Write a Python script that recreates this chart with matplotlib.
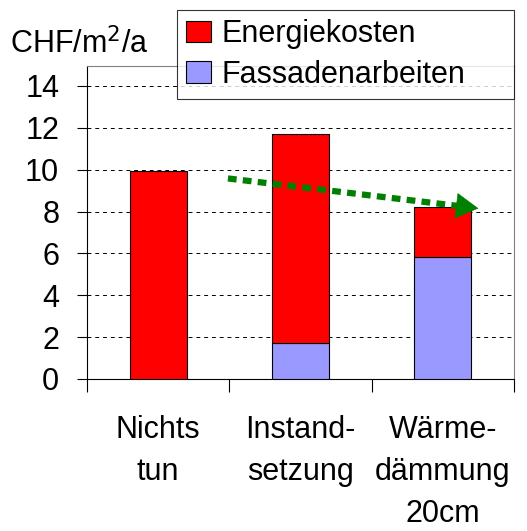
import matplotlib
matplotlib.use('Agg')
import matplotlib.pyplot as plt
import numpy as np

plt.rcParams['font.family'] = ['Liberation Sans', 'DejaVu Sans']

# data
categories = ['Nichts\ntun', 'Instand-\nsetzung', 'Wärme-\ndämmung\n20cm']
fassade = [0.0, 1.71, 5.85]
energie = [9.95, 9.98, 2.38]
trend_x = [0.49, 2.25]
trend_y = [9.58, 8.15]

FS = 22

fig = plt.figure(figsize=(5.27, 5.31), dpi=100)
ax = fig.add_axes([87/527, 1 - 379/531, 427/527, 313/531])

x = np.arange(len(categories))
ax.bar(x, fassade, width=0.4, color='#9999FF', edgecolor='black', linewidth=0.8,
       label='Fassadenarbeiten', zorder=3)
ax.bar(x, energie, width=0.4, bottom=fassade, color='#FF0000', edgecolor='black',
       linewidth=0.8, label='Energiekosten', zorder=3)

# dotted green trend line with solid head
t = 0.93
xm = trend_x[0] + t * (trend_x[1] - trend_x[0])
ym = trend_y[0] + t * (trend_y[1] - trend_y[0])
ax.plot([trend_x[0], xm], [trend_y[0], ym], color='#008000', lw=4.5,
        linestyle=(0, (1.4, 1.0)), dash_capstyle='butt', zorder=4)
ax.annotate('', xy=(trend_x[1], trend_y[1]), xytext=(xm, ym),
            arrowprops=dict(arrowstyle='-|>,head_length=0.7,head_width=0.4',
                            color='#008000', lw=0.5, mutation_scale=22,
                            shrinkA=0, shrinkB=0),
            zorder=4)

ax.set_xlim(-0.5, 2.5)
ax.set_ylim(0, 14.95)
ax.set_yticks(np.arange(0, 15, 2))
ax.tick_params(axis='y', labelsize=FS, length=7, width=0.8, pad=13)
ax.yaxis.grid(True, linestyle=(0, (4, 4)), color='black', linewidth=0.7, zorder=0)

# category labels at centers, tick marks at boundaries
ax.set_xticks(x)
ax.set_xticklabels(categories, fontsize=FS, linespacing=1.53, va='top')
ax.tick_params(axis='x', length=0, pad=26)
ax.set_xticks([-0.5, 0.5, 1.5, 2.5], minor=True)
ax.tick_params(axis='x', which='minor', length=9, width=0.8, color='black')

for s in ['top', 'right']:
    ax.spines[s].set_color('#808080')
    ax.spines[s].set_linewidth(0.8)
for s in ['left', 'bottom']:
    ax.spines[s].set_color('black')
    ax.spines[s].set_linewidth(0.8)

fig.text(10/527, 1 - 53/531, 'CHF/m$^2$/a', fontsize=FS, va='baseline', ha='left')

h, l = ax.get_legend_handles_labels()
leg = fig.legend(h[::-1], l[::-1], loc='upper left',
                 bbox_to_anchor=(177/527, 1 - 101/531, 337/527, 91/531), mode='expand',
                 fontsize=FS, frameon=True, fancybox=False, shadow=False,
                 handlelength=0.82, handleheight=0.72, handletextpad=0.35,
                 labelspacing=0.35, borderpad=0.3, borderaxespad=0)
leg.get_frame().set_edgecolor('black')
leg.get_frame().set_linewidth(0.8)

fig.savefig('out.png', dpi=100)
